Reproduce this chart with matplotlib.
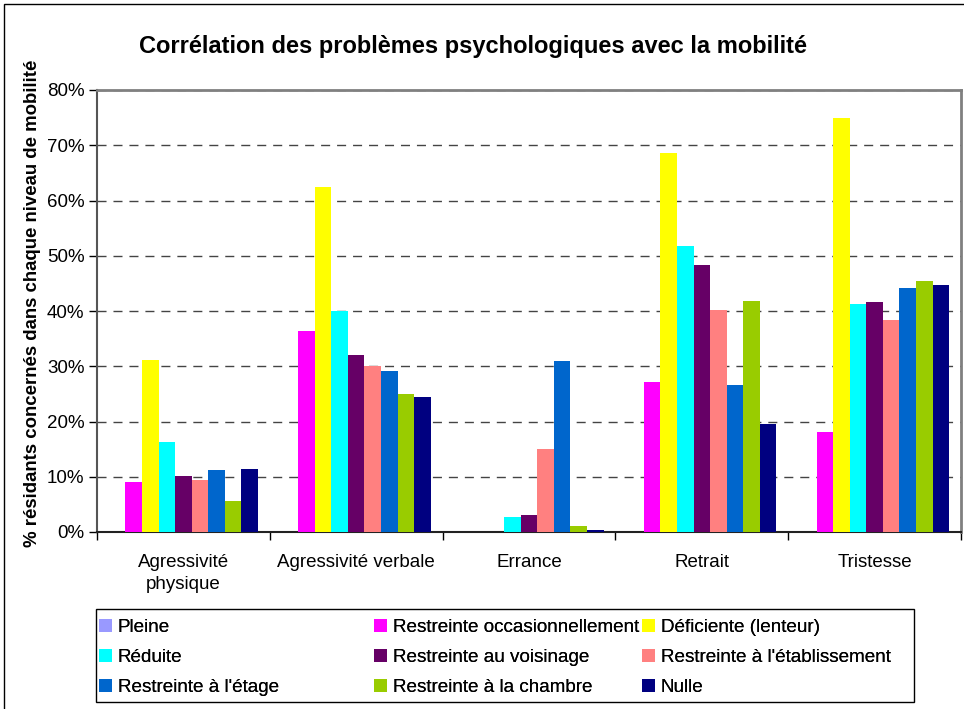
import numpy as np
import matplotlib.pyplot as plt
from matplotlib.patches import Rectangle
from matplotlib.ticker import PercentFormatter

plt.rcParams['font.family'] = ['Liberation Sans', 'DejaVu Sans']

W, H = 964, 709

categories = ["Agressivité\nphysique", "Agressivité verbale", "Errance", "Retrait", "Tristesse"]

names = ["Pleine", "Restreinte occasionnellement", "Déficiente (lenteur)",
         "Réduite", "Restreinte au voisinage", "Restreinte à l'établissement",
         "Restreinte à l'étage", "Restreinte à la chambre", "Nulle"]

# % of residents, one list per mobility level (order of categories)
pleine = [0, 0, 0, 0, 0]
occasionnelle = [9.1, 36.4, 0, 27.1, 18.1]
deficiente = [31.2, 62.5, 0, 68.6, 74.9]
reduite = [16.2, 40.0, 2.8, 51.8, 41.3]
voisinage = [10.1, 32.0, 3.0, 48.3, 41.6]
etablissement = [9.4, 30.0, 15.0, 40.2, 38.4]
etage = [11.2, 29.2, 31.0, 26.6, 44.2]
chambre = [5.6, 25.0, 1.1, 41.8, 45.4]
nulle = [11.4, 24.5, 0.4, 19.5, 44.7]

values = [pleine, occasionnelle, deficiente, reduite, voisinage,
          etablissement, etage, chambre, nulle]
colors = ["#9999FF", "#FF00FF", "#FFFF00", "#00FFFF", "#660066",
          "#FF8080", "#0066CC", "#99CC00", "#000080"]

fig = plt.figure(figsize=(W / 100, H / 100), dpi=100)
ax = fig.add_axes([97 / W, 1 - 532 / H, (961 - 97) / W, (532 - 90) / H])

x = np.arange(len(categories))
bw = 0.096
handles = []
for j, (name, vals, c) in enumerate(zip(names, values, colors)):
    b = ax.bar(x + (j - 4) * bw, vals, bw, color=c, label=name, zorder=3)
    handles.append(b)

ax.set_xlim(-0.5, 4.5)
ax.set_ylim(0, 80)
ax.set_yticks(range(0, 81, 10))
ax.yaxis.set_major_formatter(PercentFormatter(decimals=0))
ax.yaxis.grid(True, linestyle=(0, (6.5, 5)), color='#444444', lw=1)
ax.set_axisbelow(True)

ax.set_xticks(np.arange(6) - 0.5)
ax.set_xticklabels([])
ax.set_xticks(x, minor=True)
ax.set_xticklabels(categories, minor=True, fontsize=13.5, linespacing=1.35, va='top')
ax.tick_params(axis='x', which='major', length=6, width=1, direction='out')
ax.tick_params(axis='x', which='minor', length=0, pad=16)
ax.tick_params(axis='y', length=6, width=1, labelsize=13.5, pad=3)

for s in ['top', 'right']:
    ax.spines[s].set_color('#808080')
    ax.spines[s].set_linewidth(2)
ax.spines['left'].set_color('#555555')
ax.spines['left'].set_linewidth(1.5)
ax.spines['bottom'].set_color('#222222')
ax.spines['bottom'].set_linewidth(1.5)

fig.text(473 / W, 1 - 47 / H, "Corrélation des problèmes psychologiques avec la mobilité",
         ha='center', va='center', fontsize=17, fontweight='bold')
fig.text(33 / W, 1 - 303 / H, "% résidants concernés dans chaque niveau de mobilité",
         ha='center', va='center', rotation=90, fontsize=13.4, fontweight='bold')

# legend: 3 columns laid out row by row
col_x = [99, 374, 642]
for k in range(3):
    idx = [k, k + 3, k + 6]
    leg = fig.legend([handles[i] for i in idx], [names[i] for i in idx],
                     loc='upper left', bbox_to_anchor=(col_x[k] / W, 1 - 619 / H),
                     bbox_transform=fig.transFigure, frameon=False, fontsize=13.6,
                     handlelength=0.7, handleheight=0.7, handletextpad=0.3,
                     labelspacing=0.68, borderpad=0, borderaxespad=0)
    fig.add_artist(leg)

fig.add_artist(Rectangle((96 / W, 1 - 702 / H), (914 - 96) / W, (702 - 609) / H,
                         transform=fig.transFigure, fill=False, ec='black', lw=1))
fig.add_artist(Rectangle((4 / W, -0.1), 1.2, 1.1 - 4 / H,
                         transform=fig.transFigure, fill=False, ec='black', lw=1,
                         clip_on=False))

fig.savefig("out.png", dpi=100)
